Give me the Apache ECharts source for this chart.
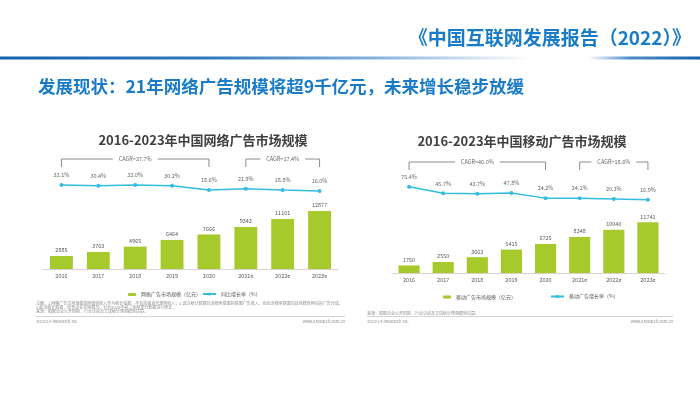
<!DOCTYPE html>
<html><head><meta charset="utf-8">
<script src="https://cdn.jsdelivr.net/npm/echarts@6/dist/echarts.min.js"></script>
<style>html,body{margin:0;padding:0;background:#fff}#c{width:700px;height:393px}</style>
</head><body><div id="c"></div>
<script>
const categories = ['2016','2017','2018','2019','2020','2021e','2022e','2023e'];
const netAdScale = [2885,3763,4965,6464,7666,9343,11101,12877];
const netAdGrowth = [32.1,30.4,32.0,30.2,18.6,21.9,18.8,16.0];
const mobileAdScale = [1750,2550,3663,5415,6725,8348,10040,11741];
const mobileAdGrowth = [75.4,45.7,43.7,47.8,24.2,24.1,20.3,16.9];
const netCagr = ['CAGR=27.7%','CAGR=17.4%'];
const mobileCagr = ['CAGR=40.0%','CAGR=18.6%'];
const headerText = '《中国互联网发展报告（2022）》';
const subtitleText = '发展现状：21年网络广告规模将超9千亿元，未来增长稳步放缓';
const netTitle = '2016-2023年中国网络广告市场规模';
const mobileTitle = '2016-2023年中国移动广告市场规模';
const netLegend = ['网络广告市场规模（亿元）','同比增长率（%）'];
const mobileLegend = ['移动广告市场规模（亿元）','移动广告增长率（%）'];
const netNotes = [
  '注释：1.网络广告市场规模按照媒体收入作为统计依据，不包括渠道代理商收入；2.此次统计数据包含搜索联盟的联盟广告收入，也包含搜索联盟向其他媒体网站的广告分成；',
  '3.此次统计数据，结合企业实际情况，针对2020年前三季度部分数据进行修正。',
  '来源：根据企业公开财报、行业访谈及艾瑞统计预测模型估算。'
];
const mobileNotes = ['来源：根据企业公开财报、行业访谈及艾瑞统计预测模型估算。'];
const copyright = '©2021.9 iResearch Inc.';
const website = 'www.iresearch.com.cn';

const FONT = '"Noto Sans CJK SC", "Noto Sans", sans-serif';
const GREEN = '#a6c92b';
const CYAN = '#33bde0';
const chart = echarts.init(document.getElementById('c'), null, {renderer:'canvas'});

function catAxis(grid, show, margin){
  return {type:'category', gridIndex:grid, data:categories, show:show,
    axisLine:{show:show, lineStyle:{color:'#d4d4d4', width:1}}, axisTick:{show:false},
    axisLabel:{show:show, fontSize:5.5, color:'#595959', margin:margin||4, fontFamily:FONT}};
}
function valAxis(grid, max){
  return {type:'value', gridIndex:grid, min:0, max:max, show:false, splitLine:{show:false}};
}
const barLabel = {show:true, position:'top', distance:3, fontSize:5.5, color:'#595959', fontFamily:FONT};
const lineLabel = {show:true, position:'top', distance:5, fontSize:5.5, color:'#666', fontFamily:FONT,
  formatter: p => p.value.toFixed(1) + '%'};

function legend(name, left, top, w, h){
  return {data:[name], left:left, top:top, itemWidth:w, itemHeight:h, padding:0, itemGap:0,
    textStyle:{fontSize:5, color:'#595959', fontFamily:FONT}};
}

chart.setOption({
  animation:false,
  grid:[
    {left:43, right:362, top:201.5, bottom:124},
    {left:43, right:362, top:159.7, bottom:196},
    {left:392, right:35, top:208.2, bottom:120},
    {left:392, right:35, top:181.3, bottom:189.5}
  ],
  xAxis:[catAxis(0,true,4), catAxis(1,false), catAxis(2,true,4), catAxis(3,false)],
  yAxis:[valAxis(0,15000), valAxis(1,100), valAxis(2,15000), valAxis(3,100)],
  legend:[
    legend(netLegend[0], 128, 292, 8, 3),
    legend(netLegend[1], 202, 291.5, 13, 4),
    legend(mobileLegend[0], 443, 294.5, 8, 3),
    legend(mobileLegend[1], 550, 294, 13, 4)
  ],
  series:[
    {name:netLegend[0], type:'bar', xAxisIndex:0, yAxisIndex:0, data:netAdScale, barWidth:'62%',
      itemStyle:{color:GREEN}, label:barLabel},
    {name:netLegend[1], type:'line', xAxisIndex:1, yAxisIndex:1, data:netAdGrowth,
      symbol:'circle', symbolSize:4, lineStyle:{color:CYAN, width:1.5}, itemStyle:{color:CYAN}, label:lineLabel},
    {name:mobileLegend[0], type:'bar', xAxisIndex:2, yAxisIndex:2, data:mobileAdScale, barWidth:'62%',
      itemStyle:{color:GREEN}, label:barLabel},
    {name:mobileLegend[1], type:'line', xAxisIndex:3, yAxisIndex:3, data:mobileAdGrowth,
      symbol:'circle', symbolSize:4, lineStyle:{color:CYAN, width:1.5}, itemStyle:{color:CYAN}, label:lineLabel}
  ]
});

function px(axis, idx){ return chart.convertToPixel({xAxisIndex:axis}, idx); }

function bracket(id, x0, x1, yTop, yBot, label){
  return [
    {type:'polyline', id:id+'l', silent:true, z:10,
      shape:{points:[[x0,yBot],[x0,yTop],[x1,yTop],[x1,yBot]]},
      style:{stroke:'#8c8c8c', lineWidth:1, fill:null}},
    {type:'text', id:id+'t', silent:true, z:11,
      style:{x:(x0+x1)/2, y:yTop, text:label, textAlign:'center', textVerticalAlign:'middle',
        font:'5.5px '+FONT, fill:'#666', backgroundColor:'#fff', padding:[1,6]}}
  ];
}
function text(id, x, y, str, font, color, align){
  return {type:'text', id:id, silent:true, z:10,
    style:{x:x, y:y, text:str, textAlign:align||'left', textVerticalAlign:'middle', font:font, fill:color}};
}

const g = [];
g.push({type:'rect', id:'hdrline', silent:true, shape:{x:0, y:56.5, width:700, height:3},
  style:{fill:new echarts.graphic.LinearGradient(0,0,1,0,[
    {offset:0,color:'#1262ad'},{offset:0.3,color:'#2f78bf'},{offset:0.55,color:'#8db6de'},
    {offset:0.76,color:'#ffffff'},{offset:0.84,color:'#ffffff'},{offset:0.9,color:'#4d8cca'},{offset:1,color:'#1262ad'}])}});
g.push(text('hdr', 691, 38, headerText, 'bold 19px '+FONT, '#1a7cc6', 'right'));
g.push(text('sub', 38, 86, subtitleText, 'bold 17.5px '+FONT, '#1a7cc6'));
g.push(text('t1', 203, 140, netTitle, 'bold 13px '+FONT, '#404040', 'center'));
g.push(text('t2', 522, 141, mobileTitle, 'bold 13px '+FONT, '#404040', 'center'));

g.push(...bracket('b1', px(1,0), px(1,4), 159, 167, netCagr[0]));
g.push(...bracket('b2', px(1,5), px(1,7), 159, 167, netCagr[1]));
g.push(...bracket('b3', px(3,0), px(3,4), 162, 170, mobileCagr[0]));
g.push(...bracket('b4', px(3,5), px(3,7), 162, 170, mobileCagr[1]));

netNotes.forEach((s,i)=>g.push(text('n1_'+i, 36, 303+i*4.2, s, '4px '+FONT, '#8c8c8c')));
mobileNotes.forEach((s,i)=>g.push(text('n2_'+i, 367, 313, s, '4px '+FONT, '#8c8c8c')));
g.push({type:'line', id:'sep1', silent:true, shape:{x1:36,y1:316.5,x2:345,y2:316.5}, style:{stroke:'#c8c8c8', lineWidth:0.8}});
g.push({type:'line', id:'sep2', silent:true, shape:{x1:367,y1:316.5,x2:673,y2:316.5}, style:{stroke:'#c8c8c8', lineWidth:0.8}});
g.push(text('c1', 36, 321, copyright, '4px '+FONT, '#8c8c8c'));
g.push(text('w1', 345, 321, website, '4px '+FONT, '#8c8c8c', 'right'));
g.push(text('c2', 367, 321, copyright, '4px '+FONT, '#8c8c8c'));
g.push(text('w2', 673, 321, website, '4px '+FONT, '#8c8c8c', 'right'));

chart.setOption({graphic:g});
</script></body></html>
